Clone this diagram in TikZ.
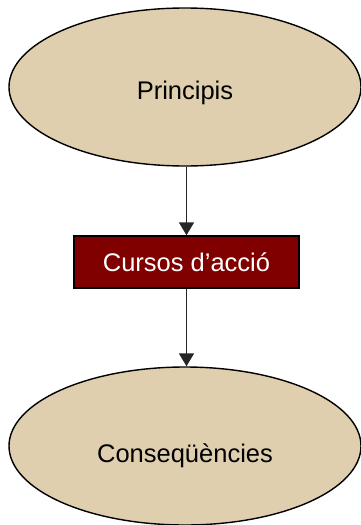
\documentclass[tikz,border=0pt]{standalone}
\usepackage{fontspec}
\setmainfont{Liberation Sans}
\usetikzlibrary{shapes.geometric,arrows.meta}
\definecolor{beige}{RGB}{223,207,174}
\definecolor{darkred}{RGB}{128,0,0}
\definecolor{arrowgray}{RGB}{38,38,38}
\begin{document}
\begin{tikzpicture}[x=1pt,y=-1pt,
  oval/.style={ellipse, draw=black, line width=1.4pt, fill=beige, minimum width=352pt, minimum height=158pt, inner sep=0pt, font=\fontsize{25.5}{30}\selectfont},
  boxnode/.style={rectangle, draw=black, line width=1.4pt, fill=darkred, text=white, minimum width=225pt, minimum height=52pt, inner sep=0pt, font=\fontsize{25.5}{30}\selectfont},
  conn/.style={draw=arrowgray, line width=1.8pt, -{Triangle[length=13pt,width=15pt]}}]
\useasboundingbox (0,0) rectangle (361,525);
\node[oval] (p) at (185,87) {\raisebox{-12pt}[0pt][0pt]{Principis}};
\node[boxnode] (c) at (186.5,262) {Cursos d’acció};
\node[oval] (q) at (185,446) {\raisebox{-16pt}[0pt][0pt]{Conseqüències}};
\draw[conn] (p.south -| c.north) -- (c.north);
\draw[conn] (c.south) -- (q.north -| c.south);
\end{tikzpicture}
\end{document}
